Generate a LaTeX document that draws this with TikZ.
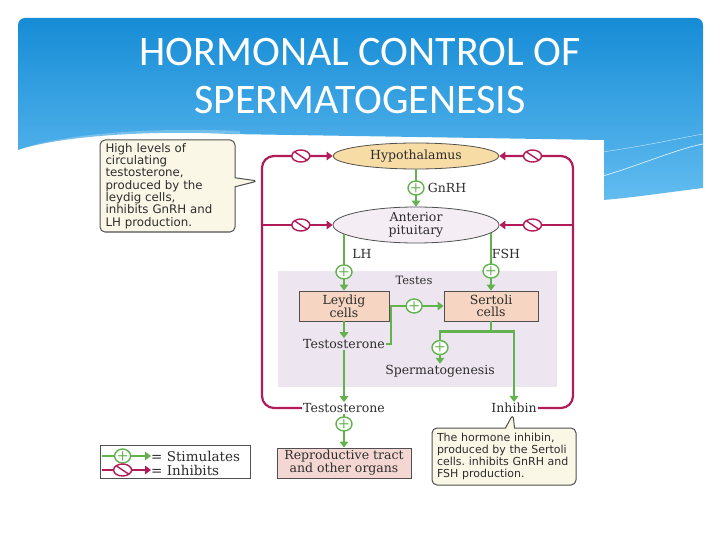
\documentclass[tikz,border=0pt]{standalone}
\usepackage{fontspec}
\setmainfont{DejaVu Serif}
\newfontfamily\notefont{DejaVu Sans}
\newfontfamily\headfont{Carlito}
\usetikzlibrary{arrows.meta,positioning,shapes.geometric,shapes.callouts,calc}
\frenchspacing

\definecolor{bannertop}{RGB}{22,140,214}
\definecolor{bannerbot}{RGB}{98,188,240}
\definecolor{stimcol}{RGB}{98,178,78}
\definecolor{inhcol}{RGB}{178,26,88}
\definecolor{hypfill}{RGB}{248,220,166}
\definecolor{pitfill}{RGB}{244,237,244}
\definecolor{testesfill}{RGB}{237,229,239}
\definecolor{cellfill}{RGB}{246,214,194}
\definecolor{reprofill}{RGB}{244,215,210}
\definecolor{notefill}{RGB}{251,247,230}
\definecolor{linegray}{RGB}{80,80,80}
\definecolor{textgray}{RGB}{45,45,45}

\begin{document}
\begin{tikzpicture}[x=1pt, y=-1pt, font=\fontsize{12.5}{13}\selectfont]
  \tikzstyle{organ}=[ellipse, draw=linegray, line width=0.8pt, inner sep=0pt, minimum width=166, minimum height=26, text=textgray, align=center]
  \tikzstyle{cellbox}=[rectangle, draw=linegray, line width=0.8pt, fill=cellfill, inner sep=0pt, minimum width=90, minimum height=30, text=textgray, align=center, font=\fontsize{12.5}{12}\selectfont]
  \tikzstyle{hormone}=[inner sep=1pt, text=textgray]
  \tikzstyle{note}=[rectangle callout, draw=linegray, fill=notefill, line width=1pt, rounded corners=5pt, callout pointer width=9pt, inner sep=0pt, align=left, text=textgray, font=\notefont\fontsize{11}{12.3}\selectfont]
  \tikzstyle{stimsign}=[ellipse, draw=stimcol, fill=white, line width=1.4pt, minimum width=16, minimum height=14, inner sep=0pt, text=stimcol, font=\sffamily\bfseries\fontsize{13}{13}\selectfont]
  \tikzstyle{inhsign}=[ellipse, draw=inhcol, fill=white, line width=1.4pt, minimum width=18, minimum height=12, inner sep=0pt, path picture={\draw[-, inhcol, line width=1.4pt] ([shift={(-6,-4)}]path picture bounding box.center) -- ([shift={(6,4)}]path picture bounding box.center);}]
  \tikzstyle{stim}=[draw=stimcol, line width=2.2pt, -{Triangle[length=6pt, width=8.5pt]}]
  \tikzstyle{inhib}=[draw=inhcol, line width=2.2pt, -{Triangle[length=6pt, width=8.5pt]}]
  \tikzstyle{legtext}=[inner sep=0pt, anchor=west, text=textgray, font=\fontsize{13.5}{14}\selectfont]

  \useasboundingbox (0,0) rectangle (720,540);
  \fill[white] (0,0) rectangle (720,540);
  % slide banner
  \shade[top color=bannertop, bottom color=bannerbot]
    (18,150) [rounded corners=7] -- (18,18) -- (703,18) [sharp corners] -- (703,188)
    .. controls (670,192) and (630,198) .. (603,200) -- (603,140) -- (230,134)
    .. controls (150,130) and (60,136) .. (18,150) -- cycle;
  \fill[white, opacity=.25] (18,150) .. controls (60,134) and (150,127) .. (240,131) -- (240,134) .. controls (150,131) and (60,138) .. (18,152) -- cycle;
  \draw[white, line width=0.7pt, opacity=.8] (603,176) .. controls (640,165) and (680,148) .. (703,144);
  \draw[white, line width=0.5pt, opacity=.6] (603,152) .. controls (650,145) and (680,138) .. (703,134);
  \node[font=\headfont\fontsize{42}{48}\selectfont, text=white, align=center] (title) at (360,76) {HORMONAL CONTROL OF\\SPERMATOGENESIS};

  % figure
  \fill[white] (98,140) rectangle (604,492);
  \fill[testesfill] (278,271) rectangle (557,387);

  \node[organ, fill=hypfill] (hyp) at (416,156) {Hypothalamus};
  \node[organ, fill=pitfill, minimum height=36, font=\fontsize{12.5}{12.5}\selectfont] (pit) at (416,225) {Anterior\\pituitary};
  \node[cellbox] (ley) at (344,306) {Leydig\\cells};
  \node[cellbox, minimum width=94] (sert) at (491,306) {Sertoli\\cells};
  \node[hormone] (lh) at (362,254) {LH};
  \node[hormone] (fsh) at (506,254) {FSH};
  \node[hormone, font=\fontsize{11.5}{12}\selectfont] (testes) at (414,280) {Testes};
  \node[hormone] (testin) at (344,344) {Testosterone};
  \node[hormone] (sperm) at (440,371) {Spermatogenesis};
  \node[hormone] (testout) at (344,408) {Testosterone};
  \node[hormone] (inh) at (514,408) {Inhibin};
  \node[cellbox, fill=reprofill, minimum width=134] (repro) at (344,463) {Reproductive tract\\and other organs};

  \node[note, callout absolute pointer={(258,181)}, minimum width=135, minimum height=92, text width=124, font=\notefont\fontsize{11.8}{12.3}\selectfont] (lnote) at (167.5,186) {High levels of\\circulating\\testosterone,\\produced by the\\leydig cells,\\inhibits GnRH and\\LH production.};
  \node[note, callout absolute pointer={(513,414)}, minimum width=144, minimum height=57, text width=134] (rnote) at (504,456.5) {The hormone inhibin,\\produced by the Sertoli\\cells. inhibits GnRH and\\FSH production.};

  % stimulating paths
  \draw[stim] (hyp) -- node[stimsign] (gplus) {+} (pit);
  \node[hormone, right=2pt of gplus] (gnrh) {GnRH};
  \coordinate (lhtop) at ($(pit.center)+(-72,9)$);
  \coordinate (fshtop) at ($(pit.center)+(75,8)$);
  \draw[stim] (lhtop) -- node[stimsign, pos=0.67] {+} (ley);
  \draw[stim] (fshtop) -- node[stimsign, pos=0.66] {+} (sert);
  \draw[stim] (ley) -- (testin);
  \draw[stim] (testin) -- (testout);
  \draw[stim] (testin.east) -- ++(5,0) |- node[stimsign, pos=0.72] {+} (sert.west);
  \draw[stim] (sert.south) -- ++(0,10) coordinate (split) -| node[stimsign, pos=0.75] {+} (sperm.north);
  \draw[stim] (split) -| (inh.north);
  \draw[stim] (testout) -- node[stimsign, pos=0.3] {+} (repro);

  % inhibiting paths
  \coordinate (lbus) at (262,156);
  \coordinate (lmid) at (262,225);
  \coordinate (rbus) at (573,156);
  \coordinate (rmid) at (573,225);
  \draw[inhib, rounded corners=12] (testout.west) -| (lbus) -- node[inhsign, pos=0.55] {} (hyp.west);
  \draw[inhib] (lmid) -- node[inhsign, pos=0.55] {} (pit.west);
  \draw[inhib, rounded corners=12] (inh.east) -| (rbus) -- node[inhsign, pos=0.55] {} (hyp.east);
  \draw[inhib] (rmid) -- node[inhsign, pos=0.55] {} (pit.east);

  % legend
  \node[draw=linegray, line width=0.8pt, minimum width=150, minimum height=33, inner sep=0pt] (legend) at (175,461.5) {};
  \node[legtext] (stimtxt) at (151,456) {= Stimulates};
  \node[legtext] (inhtxt) at (151,470) {= Inhibits};
  \coordinate (stimfrom) at (102,456);
  \coordinate (inhfrom) at (102,470);
  \draw[stim] (stimfrom) -- node[stimsign, pos=0.42] {+} (stimtxt.west);
  \draw[inhib] (inhfrom) -- node[inhsign, pos=0.42] {} (inhtxt.west);
\end{tikzpicture}
\end{document}
